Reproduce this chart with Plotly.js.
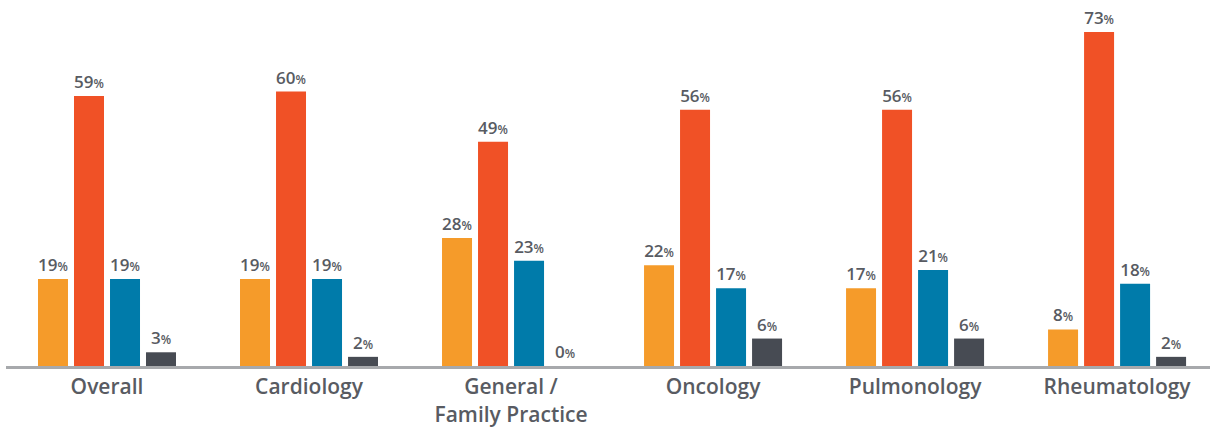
<!DOCTYPE html>
<html><head><meta charset="utf-8">
<script src="https://cdn.plot.ly/plotly-3.0.1.min.js"></script>
<style>html,body{margin:0;padding:0;background:#fff;}#chart{width:1210px;height:428px;}</style>
</head><body><div id="chart"></div>
<script>
const categories = ["Overall", "Cardiology", "General /<br>Family Practice", "Oncology", "Pulmonology", "Rheumatology"];
const seriesA = [19, 19, 28, 22, 17, 8];
const seriesB = [59, 60, 49, 56, 56, 73];
const seriesC = [19, 19, 23, 17, 21, 18];
const seriesD = [3, 2, 0, 6, 6, 2];
const colors = ["#F59B2A", "#F05126", "#007BAA", "#474B53"];

function lbl(v){ return v + "<span style='font-size:12px'>%</span>"; }
const all = [seriesA, seriesB, seriesC, seriesD];
const traces = all.map((s, i) => ({
  type: "bar", x: categories, y: s,
  marker: {color: colors[i]},
  text: s.map(lbl), textposition: "outside", cliponaxis: false,
  textfont: {family: "'Open Sans', sans-serif", size: 17, color: "#585B62", weight: 600},
  hoverinfo: "skip", showlegend: false
}));
Plotly.newPlot("chart", traces, {
  width: 1210, height: 428,
  margin: {l: 6, r: 0, t: 0, b: 62},
  barmode: "group", bargap: 0.287, bargroupgap: 0.167,
  paper_bgcolor: "#fff", plot_bgcolor: "#fff",
  xaxis: {range: [-0.5, 5.46], showline: true, linecolor: "#A7A9AC", linewidth: 3,
    tickfont: {family: "'Open Sans', sans-serif", size: 21, color: "#585B62", weight: 600},
    ticks: "", showgrid: false, fixedrange: true},
  yaxis: {range: [0, 80], visible: false, showgrid: false, zeroline: false, fixedrange: true},
  uniformtext: {mode: false}
}, {displayModeBar: false, staticPlot: true});
</script></body></html>
